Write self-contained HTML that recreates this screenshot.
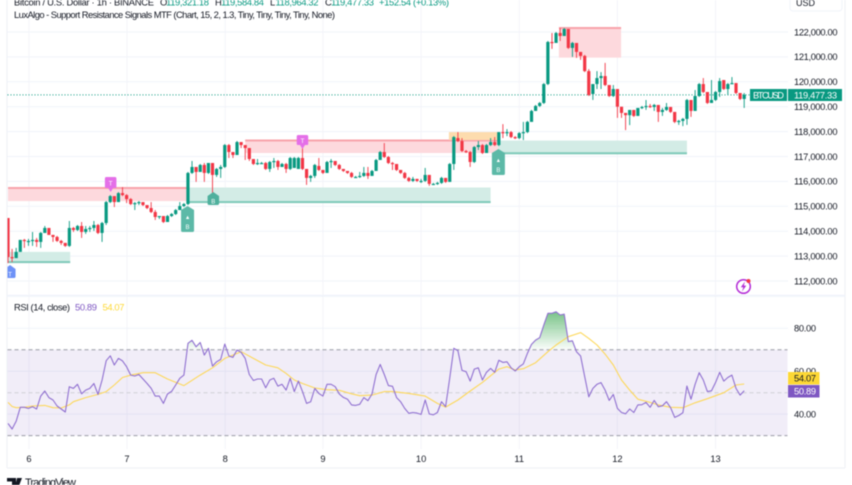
<!DOCTYPE html>
<html lang="en">
<head>
<meta charset="utf-8">
<title>BTCUSD chart</title>
<style>
html,body{margin:0;padding:0;background:#fff;width:852px;height:485px;overflow:hidden}
svg{display:block;filter:blur(0.4px);font-family:"Liberation Sans",sans-serif}
</style>
</head>
<body>
<svg id="chart" xmlns="http://www.w3.org/2000/svg" width="852" height="485" viewBox="0 0 852 485">
  <defs>
    <clipPath id="paneClip"><rect x="7.5" y="0" width="780" height="295"/></clipPath>
    <clipPath id="rsiClip"><rect x="7.5" y="297" width="780" height="171"/></clipPath>
    <clipPath id="above70"><rect x="7.5" y="297" width="780" height="53"/></clipPath>
  </defs>
  <g id="grid"></g>
  <g id="zones" clip-path="url(#paneClip)"></g>
  <line id="lastLine" stroke="#089981" stroke-width="1" stroke-dasharray="1 2"/>
  <g id="candles" clip-path="url(#paneClip)"></g>
  <g id="markers" clip-path="url(#paneClip)"></g>
  <g id="rsiPane" clip-path="url(#rsiClip)"></g>
  <g id="axes"></g>

  <g font-size="9.4" fill="#131722">
    <text x="14" y="5.5" textLength="140" lengthAdjust="spacing">Bitcoin / U.S. Dollar · 1h · BINANCE</text>
    <text x="160" y="5.5">O</text>
    <text x="166" y="5.5" fill="#089981" textLength="43" lengthAdjust="spacing">119,321.18</text>
    <text x="215" y="5.5">H</text>
    <text x="221" y="5.5" fill="#089981" textLength="43" lengthAdjust="spacing">119,584.84</text>
    <text x="270" y="5.5">L</text>
    <text x="275.5" y="5.5" fill="#089981" textLength="43" lengthAdjust="spacing">118,964.32</text>
    <text x="325" y="5.5">C</text>
    <text x="331" y="5.5" fill="#089981" textLength="43" lengthAdjust="spacing">119,477.33</text>
    <text x="379" y="5.5" fill="#089981" textLength="70" lengthAdjust="spacing">+152.54 (+0.13%)</text>
    <text x="14" y="18" textLength="321" lengthAdjust="spacing">LuxAlgo - Support Resistance Signals MTF (Chart, 15, 2, 1.3, Tiny, Tiny, Tiny, Tiny, None)</text>
    <text x="14" y="310.5" textLength="56" lengthAdjust="spacing">RSI (14, close)</text>
    <text x="75" y="310.5" fill="#7e57c2" textLength="22" lengthAdjust="spacing">50.89</text>
    <text x="102.500" y="310.5" fill="#fdd835" textLength="22" lengthAdjust="spacing">54.07</text>
  </g>

  <g>
    <rect x="750" y="89" width="37" height="12" fill="#089981"/>
    <text x="768.500" y="98.400" font-size="9.300" fill="#fff" text-anchor="middle" textLength="31" lengthAdjust="spacing">BTCUSD</text>
    <rect x="788" y="89" width="54" height="12" fill="#089981"/>
    <text x="794" y="98.400" font-size="9.300" fill="#fff" textLength="43" lengthAdjust="spacing">119,477.33</text>
    <text x="796" y="6" font-size="9" fill="#131722">USD</text>
    <rect x="788" y="372" width="31.500" height="12.500" fill="#fdd835"/>
    <text x="794" y="381.700" font-size="9.300" fill="#131722" textLength="22" lengthAdjust="spacing">54.07</text>
    <rect x="788" y="385" width="31.500" height="12.500" fill="#7e57c2"/>
    <text x="794" y="394.700" font-size="9.300" fill="#fff" textLength="22" lengthAdjust="spacing">50.89</text>
  </g>

  <g>
    <circle cx="743.500" cy="286.500" r="6.800" fill="#fff" stroke="#b32bd6" stroke-width="1.500"/>
    <path d="M745 281.500 L740.800 287.300 L743.300 287.300 L742 291.500 L746.300 285.600 L743.800 285.600 Z" fill="#b32bd6"/>
    <circle cx="748.500" cy="281" r="2" fill="#f23645"/>
  </g>

  <g>
    <path d="M7 478 H16 V487 H12 V481.500 H7 Z M17 478 H22 L18.500 487 H15 Z" fill="#131722"/>
    <circle cx="15" cy="480" r="1" fill="#131722"/>
    <text x="25" y="486" font-size="11" fill="#131722" textLength="51" lengthAdjust="spacing">TradingView</text>
  </g>
</svg>

<script>
const priceTicks = [122000, 121000, 120000, 119000, 118000, 117000, 116000, 115000, 114000, 113000, 112000];
const priceTickLabels = ["122,000.00", "121,000.00", "120,000.00", "119,000.00", "118,000.00", "117,000.00", "116,000.00", "115,000.00", "114,000.00", "113,000.00", "112,000.00"];
const dayLabels = ["6", "7", "8", "9", "10", "11", "12", "13"];
const dayCandleIndex = [5.13, 29.1, 53.1, 77, 101, 125, 149, 173];
const rsiTicks = [80, 60, 40];
const rsiTickLabels = ["80.00", "60.00", "40.00"];
const rsiBands = [70, 50, 30];
const lastPrice = 119477.33;

const firstOpen = 114530;
/* candles whose open visibly gaps from the previous close: [candle index, open price] */
const openGaps = [[70, 116540], [71, 116500], [76, 116620], [110, 117740], [118, 117460], [119, 117580], [143, 119510], [175, 120070]];

const closes = [112960,112920,113170,113650,113610,113610,113650,113570,113930,114130,113850,113770,113610,113530,113410,114130,114050,114210,113970,114090,114130,114250,113930,114330,115170,115410,115170,115530,115450,115290,115090,115130,115170,115050,114930,114770,114570,114610,114370,114610,114690,114850,115010,115090,116340,116580,116380,116660,116340,116740,116260,116500,116580,117460,117180,117060,117580,117460,117340,116900,116700,116740,116740,116500,116780,116820,116580,116700,116500,116940,116940,116940,116500,116140,116220,116660,116460,116340,116780,116820,116660,116500,116420,116340,116180,116180,116220,116340,116220,116420,116860,117180,116980,116740,116700,116460,116340,116140,116020,116100,116020,116020,116260,115900,115900,115940,116140,115980,116700,117780,117620,117220,117180,116780,117380,117460,117140,117460,117580,117460,117980,117940,117980,117780,117740,117940,117980,118390,118830,119030,119150,119910,121600,121560,121960,121840,122120,121360,121560,121200,121040,120430,119470,119910,120150,120230,119870,119430,119710,119000,118750,118660,118870,118630,118950,118990,119030,118990,119070,118790,118870,118990,118790,118390,118430,118510,119270,118830,119430,119910,119590,119150,119270,119590,120030,119710,119910,119950,119550,119310,119477.33];
const highs = [114530,113290,113330,113650,113690,113690,113970,113730,113970,114210,114130,113850,113810,113650,113530,114410,114170,114250,114370,114210,114210,114410,114290,114370,115210,115450,115410,115570,115770,115490,115330,115170,115210,115130,115010,115170,114850,114610,114610,114650,114730,114890,115170,115130,116380,116820,116500,116700,116740,116740,116740,116540,116660,117500,117500,117180,117620,117580,117460,117340,116900,116900,116780,116780,116820,116940,116860,116740,116740,116980,116980,116980,117460,116500,116260,116700,116940,116460,116820,116900,116820,116700,116500,116420,116380,116220,116380,116580,116580,116460,116900,117220,117540,117020,116780,116700,116460,116380,116180,116180,116100,116100,116540,116260,115940,115980,116180,116140,116740,117820,117980,117740,117260,117220,117420,117620,117500,117500,117740,117780,117980,118300,118100,118020,117820,117980,118390,118430,118870,119070,119190,119950,121640,121960,122000,122160,122160,122120,121600,121560,121200,121080,120510,119910,120430,120390,120760,119870,119870,119710,118990,118750,118870,118870,118950,119030,119270,119110,119110,119070,118950,119150,118990,118790,118470,118550,119310,119270,119670,119950,120150,119590,120070,119630,120150,120070,119950,120190,119950,119550,119550];
const lows = [112720,112760,112920,113170,113330,113410,113410,113370,113330,113930,113850,113570,113570,113450,113370,113370,113970,114010,113730,113890,113970,114010,113890,113570,114250,115130,114970,115170,115410,115130,115050,114850,115050,115010,114890,114730,114450,114490,114330,114370,114570,114650,114850,114970,115050,116300,115980,116380,115980,116300,115530,116180,116140,116540,116940,116940,117060,117340,116860,116820,116660,116660,116700,116460,116380,116540,116460,116580,116340,116460,116540,116500,116460,115860,115980,116140,116420,116300,116380,116540,116620,116460,116380,116300,116140,116140,116140,116180,116100,116220,116420,116860,116940,116700,116460,116420,116300,116100,115980,115980,115980,115940,115980,115820,115860,115860,115900,115940,115980,116460,117580,117180,117140,116580,116740,117260,117100,117140,117420,117420,117420,117740,117820,117740,117700,117700,117660,117940,118430,118830,118990,119110,119870,121320,121600,121640,121840,121320,121000,120960,120880,120390,119430,119270,119710,119710,119830,119390,119390,118550,118550,118060,118260,118590,118630,118910,118870,118950,118830,118390,118630,118830,118750,118340,118270,118220,118270,118590,118830,119390,119550,119110,119150,119230,119390,119670,119470,119910,119510,119270,118950];

const rsiValues = [35.7,33.1,36.8,43.2,43.2,42.7,43.5,42.4,48.4,50.8,47.7,46.6,43.8,42.4,41.0,52.8,52.0,53.9,49.5,51.2,52.0,54.3,49.2,55.9,64.9,67.2,62.9,66.0,64.8,62.1,58.2,57.8,58.5,56.4,54.3,52.0,48.4,48.4,45.0,49.4,50.6,53.6,56.7,58.2,73.0,74.4,71.4,73.4,67.5,70.7,62.4,64.4,65.5,72.7,67.1,66.5,69.9,68.8,66.0,58.5,55.7,56.4,56.4,52.3,55.9,56.7,53.1,53.9,51.2,56.7,50.5,55.4,50.5,45.0,45.8,52.0,49.7,48.4,53.9,53.9,52.8,49.4,47.8,47.0,44.3,44.1,44.6,47.7,46.3,49.4,58.5,63.2,58.5,53.3,53.0,47.7,45.8,42.7,40.4,40.8,40.5,39.9,46.6,40.1,39.7,40.8,45.8,43.5,56.7,70.7,69.6,60.4,59.8,55.4,61.0,61.6,55.9,59.5,61.3,59.5,65.1,64.1,64.4,61.6,60.1,62.1,63.4,68.3,72.5,74.5,75.6,81.5,87.0,87.0,87.7,86.2,86.6,73.8,74.2,69.1,67.1,57.5,48.1,52.0,53.9,54.7,51.2,46.4,49.2,42.7,40.8,40.2,42.4,40.8,44.3,44.4,45.5,43.2,46.4,43.5,43.9,45.8,43.0,38.5,39.4,40.7,53.1,47.0,53.9,59.3,55.9,50.5,50.9,54.8,59.5,55.4,57.1,58.2,52.0,48.9,50.89];
const rsiMaCandles = [0,1,2,4,6,9,11,13,15,16,19,22,24,26,28,30,33,36,39,43,47,50,53,57,60,63,66,68,70,72,75,78,81,84,86,89,92,94,98,102,105,107,110,113,116,120,122,124,126,129,132,134,137,140,142,144,146,148,150,152,154,157,159,162,165,168,171,175,178,180];
const rsiMaValues = [45.5,43.6,43.0,43.2,43.8,44.1,43.0,42.9,44.3,45.8,47.7,49.2,50.5,53.6,57.1,58.2,59.3,59.3,56.4,53.3,58.2,61.6,66.0,69.1,66.0,62.9,61.6,59.0,55.9,54.3,52.2,51.4,51.1,49.5,48.6,48.9,50.5,50.5,49.7,48.4,45.0,43.3,46.6,50.8,54.8,61.0,62.1,60.6,61.2,64.0,69.1,72.2,76.1,78.0,75.3,72.2,68.0,62.9,55.9,51.2,47.0,45.5,44.3,43.2,43.0,45.3,47.2,50.0,53.6,54.07];

/* zones: candle-index start, candle-index end, top price, bottom price */
const resistanceStart = [0, 58, 134.7];
const resistanceEnd = [43.8, 119.8, 149.9];
const resistanceTop = [115775, 117683, 122200];
const resistanceBottom = [115210, 117140, 120970];
const supportStart = [0, 43.8, 119.8];
const supportEnd = [15.2, 118, 166];
const supportTop = [113170, 115755, 117640];
const supportBottom = [112720, 115130, 117090];
const orangeZone = [107.8, 119.8, 117980, 117663];

const SVGNS = "http://www.w3.org/2000/svg";
const xScale = i => 8 + 4.09 * i;
const yPrice = p => 32 + (122000 - p) * 0.0249;
const yRsi = v => 328.3 + (80 - v) * 2.147;

function mk(tag, parent, attrs) {
  const el = document.createElementNS(SVGNS, tag);
  for (const k in attrs) el.setAttribute(k, attrs[k]);
  parent.appendChild(el);
  return el;
}
const byId = id => document.getElementById(id);

/* grid and axes */
const grid = byId("grid"), axes = byId("axes");
priceTicks.forEach((p, i) => {
  const y = yPrice(p);
  const line = mk("line", grid, {x1: 7.5, x2: 788, y1: y, y2: y, stroke: "#f0f3fa", "stroke-width": 1});
  
  
  const t = mk("text", axes, {x: 794, y: y + 3.3, "font-size": 9.3, fill: "#131722", textLength: 43.5, lengthAdjust: "spacing"});
  t.textContent = priceTickLabels[i];
  
  
});
dayLabels.forEach((d, i) => {
  const x = xScale(dayCandleIndex[i]);
  const line = mk("line", grid, {x1: x, x2: x, y1: 0, y2: 449, stroke: "#f3f4f9", "stroke-width": 1});
  
  
  const t = mk("text", axes, {x: x, y: 462, "font-size": 9.3, fill: "#131722", "text-anchor": "middle"});
  t.textContent = d;
  
  
});
rsiTicks.forEach((v, i) => {
  const y = yRsi(v);
  const line = mk("line", grid, {x1: 7.5, x2: 788, y1: y, y2: y, stroke: "#f0f3fa", "stroke-width": 1});
  
  
  const t = mk("text", axes, {x: 794, y: y + 3.3, "font-size": 9.3, fill: "#131722", textLength: 22, lengthAdjust: "spacing"});
  t.textContent = rsiTickLabels[i];
  
  
});
[[7, 0, 7, 468], [7, 468, 845, 468], [845, 0, 845, 468]].forEach(s => {
  const b = mk("line", axes, {x1: s[0], y1: s[1], x2: s[2], y2: s[3], stroke: "#eef0f6", "stroke-width": 1});
  
  
});
const sep = mk("rect", axes, {x: 7, y: 294.8, width: 838, height: 2, fill: "#f0f3fa"});


const usd = mk("rect", axes, {x: 790, y: -8, width: 52, height: 19, rx: 3, fill: "none", stroke: "#f0f3fa"});



/* zones */
const zones = byId("zones");
function drawBox(a, b, top, bottom, fill) {
  return mk("rect", zones, {x: xScale(a), y: yPrice(top), width: xScale(b) - xScale(a), height: yPrice(bottom) - yPrice(top), fill: fill});
}
resistanceStart.forEach((s, i) => {
  const box = drawBox(s, resistanceEnd[i], resistanceTop[i], resistanceBottom[i], "#fdd9dd");
  
  
  const edge = mk("rect", zones, {x: xScale(s), y: yPrice(resistanceTop[i]), width: xScale(resistanceEnd[i]) - xScale(s), height: 2, fill: "#f8a3ab"});
  
  
});
supportStart.forEach((s, i) => {
  const box = drawBox(s, supportEnd[i], supportTop[i], supportBottom[i], "#d3ece6");
  
  
  const edge = mk("rect", zones, {x: xScale(s), y: yPrice(supportBottom[i]) - 2, width: xScale(supportEnd[i]) - xScale(s), height: 2, fill: "#7fc9b9"});
  
  
});
const orange = drawBox(orangeZone[0], orangeZone[1], orangeZone[2], orangeZone[3], "#fddcae");



/* last price line */
const last = byId("lastLine");
last.setAttribute("x1", 7.5);
last.setAttribute("x2", 750);
last.setAttribute("y1", yPrice(lastPrice));
last.setAttribute("y2", yPrice(lastPrice));

/* candles */
const candlesG = byId("candles");
const gapMap = new Map(openGaps);
closes.forEach((c, i) => {
  const o = gapMap.has(i) ? gapMap.get(i) : (i === 0 ? firstOpen : closes[i - 1]);
  const color = c >= o ? "#089981" : "#f23645";
  const x = xScale(i);
  const g = mk("g", candlesG, {});
  
  
  const wick = mk("line", g, {x1: x, x2: x, y1: yPrice(highs[i]), y2: yPrice(lows[i]), stroke: color, "stroke-width": 0.9});
  
  
  const top = yPrice(Math.max(o, c)), bot = yPrice(Math.min(o, c));
  const body = mk("rect", g, {x: x - 1.6, y: top, width: 3.2, height: Math.max(1.2, bot - top), fill: color});
  
  
});

/* signal markers anchored to candles */
const markersG = byId("markers");
function marker(name, idx, price, dir, w, h, fill, glyphs) {
  const x = xScale(idx), y = yPrice(price);
  const g = mk("g", markersG, {});
  
  
  const tip = 4, r = w / 2;
  const d = dir === "down"
    ? `M${x-r+1.5} ${y-tip-h} H${x+r-1.5} Q${x+r} ${y-tip-h} ${x+r} ${y-tip-h+1.5} V${y-tip-1} Q${x+r} ${y-tip} ${x+r-1.5} ${y-tip} H${x+2.5} L${x} ${y} L${x-2.5} ${y-tip} H${x-r+1.5} Q${x-r} ${y-tip} ${x-r} ${y-tip-1} V${y-tip-h+1.5} Q${x-r} ${y-tip-h} ${x-r+1.5} ${y-tip-h} Z`
    : `M${x} ${y} L${x+r} ${y+tip} V${y+tip+h-1.5} Q${x+r} ${y+tip+h} ${x+r-1.5} ${y+tip+h} H${x-r+1.5} Q${x-r} ${y+tip+h} ${x-r} ${y+tip+h-1.5} V${y+tip} Z`;
  mk("path", g, {d: d, fill: fill});
  glyphs.forEach(gl => {
    const t = mk("text", g, {x: x, y: (dir === "down" ? y - tip - h : y + tip) + gl[1], "font-size": gl[2], fill: "#fff", "text-anchor": "middle"});
    t.textContent = gl[0];
  });
}
marker("top-signal-marker", 25.1, 115575, "down", 11.5, 11, "#e46fe8", [["T", 8.5, 6.5]]);
marker("top-signal-marker", 72, 117300, "down", 11.5, 10, "#e46fe8", [["T", 8, 6.5]]);
marker("buy-signal-marker", 43.9, 115010, "up", 13, 22, "#5cb9a7", [["▲", 9, 5.5], ["B", 19, 6]]);
marker("buy-signal-marker", 119.9, 117300, "up", 13, 22, "#5cb9a7", [["▲", 9, 5.5], ["B", 19, 6]]);
marker("support-signal-marker", 50.2, 115575, "up", 11.5, 9, "#4fb09d", [["B", 7.5, 6]]);
marker("start-signal-marker", 0.5, 112644, "up", 11, 9, "#6e92f7", [["T", 7.5, 6]]);

/* RSI pane */
const rsiG = byId("rsiPane");
const band = mk("rect", rsiG, {x: 7.5, y: yRsi(rsiBands[0]), width: 780, height: yRsi(rsiBands[2]) - yRsi(rsiBands[0]), fill: "#7e57c2", "fill-opacity": 0.11});


rsiBands.forEach((v, i) => {
  const l = mk("line", rsiG, {x1: 7.5, x2: 787.5, y1: yRsi(v), y2: yRsi(v), stroke: i === 1 ? "#cfd0d6" : "#9a9ca6", "stroke-width": 1, "stroke-dasharray": "4 3"});
  
  
});
const rsiPts = rsiValues.map((v, i) => xScale(i).toFixed(1) + "," + yRsi(v).toFixed(1));
const grad = mk("linearGradient", byId("chart").querySelector("defs"), {id: "obFillUser", gradientUnits: "userSpaceOnUse", x1: 0, x2: 0, y1: yRsi(88), y2: yRsi(rsiBands[0])});
mk("stop", grad, {offset: 0, "stop-color": "#6fbf7f", "stop-opacity": 0.95});
mk("stop", grad, {offset: 1, "stop-color": "#6fbf7f", "stop-opacity": 0.03});
const fillArea = mk("polygon", rsiG, {
  points: xScale(0) + "," + yRsi(rsiBands[0]) + " " + rsiPts.join(" ") + " " + xScale(rsiValues.length - 1) + "," + yRsi(rsiBands[0]),
  fill: "url(#obFillUser)",
  "clip-path": "url(#above70)"
});


const maLine = mk("polyline", rsiG, {points: rsiMaCandles.map((c, i) => xScale(c).toFixed(1) + "," + yRsi(rsiMaValues[i]).toFixed(1)).join(" "), fill: "none", stroke: "#fdd85a", "stroke-width": 1.1, "stroke-linejoin": "round"});


const rsiLine = mk("polyline", rsiG, {points: rsiPts.join(" "), fill: "none", stroke: "#8f6fd0", "stroke-width": 1.1, "stroke-linejoin": "round"});


</script>
</body>
</html>
